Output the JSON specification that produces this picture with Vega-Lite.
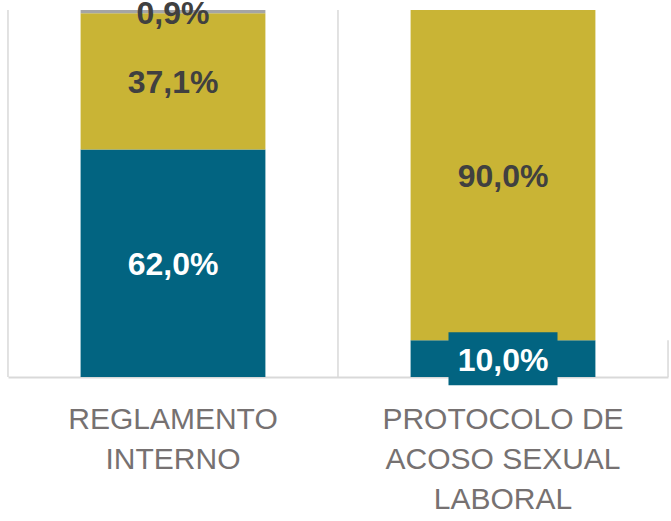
{
  "$schema": "https://vega.github.io/schema/vega-lite/v6.json",
  "autosize": "none",
  "width": 660,
  "height": 367,
  "padding": {"left": 8, "top": 10, "right": 3, "bottom": 144},
  "background": "white",
  "config": {"view": {"stroke": null}},
  "title": {
    "text": ["N", "s", "n", "C", "S", "N", "C"],
    "orient": "right",
    "angle": 0,
    "anchor": "start",
    "align": "left",
    "baseline": "top",
    "font": "Liberation Sans",
    "fontSize": 30,
    "fontWeight": "normal",
    "color": "#404040",
    "lineHeight": 46.5,
    "offset": 0,
    "dy": 32
  },
  "data": {
    "values": [
      {"categoria": "REGLAMENTO INTERNO", "serie": "Sí", "orden": 1, "valor": 62.0, "etiqueta": "62,0%"},
      {"categoria": "REGLAMENTO INTERNO", "serie": "No", "orden": 2, "valor": 37.1, "etiqueta": "37,1%"},
      {"categoria": "REGLAMENTO INTERNO", "serie": "No sabe", "orden": 3, "valor": 0.9, "etiqueta": "0,9%"},
      {"categoria": "PROTOCOLO DE ACOSO SEXUAL LABORAL", "serie": "Sí", "orden": 1, "valor": 10.0, "etiqueta": "10,0%"},
      {"categoria": "PROTOCOLO DE ACOSO SEXUAL LABORAL", "serie": "No", "orden": 2, "valor": 90.0, "etiqueta": "90,0%"}
    ]
  },
  "transform": [
    {"stack": "valor", "groupby": ["categoria"], "sort": [{"field": "orden"}], "as": ["v0", "v1"]},
    {"calculate": "(datum.v0 + datum.v1) / 2", "as": "vmid"}
  ],
  "encoding": {
    "x": {
      "field": "categoria",
      "type": "nominal",
      "sort": ["REGLAMENTO INTERNO", "PROTOCOLO DE ACOSO SEXUAL LABORAL"],
      "scale": {"paddingInner": 0.44, "paddingOuter": 0.22},
      "axis": {
        "title": null,
        "labelAngle": 0,
        "labelExpr": "datum.value == 'REGLAMENTO INTERNO' ? ['REGLAMENTO', 'INTERNO'] : ['PROTOCOLO DE', 'ACOSO SEXUAL', 'LABORAL']",
        "labelFont": "Liberation Sans",
        "labelFontSize": 30,
        "labelColor": "#767171",
        "labelLineHeight": 40,
        "labelPadding": 27,
        "labelLimit": 400,
        "ticks": false,
        "grid": false,
        "domainColor": "#D9D9D9",
        "domainWidth": 2
      }
    }
  },
  "layer": [
    {
      "mark": {"type": "bar"},
      "encoding": {
        "y": {"field": "v0", "type": "quantitative", "scale": {"domain": [0, 100]}, "axis": null},
        "y2": {"field": "v1"},
        "color": {
          "field": "serie",
          "type": "nominal",
          "scale": {"domain": ["Sí", "No", "No sabe"], "range": ["#026481", "#C9B435", "#A5A5A5"]},
          "legend": null
        }
      }
    },
    {
      "transform": [{"filter": "datum.etiqueta == '10,0%'"}],
      "mark": {"type": "point", "shape": "M-1,-0.486H1V0.486H-1Z", "filled": true, "opacity": 1, "size": 11881, "color": "#026481", "strokeWidth": 0},
      "encoding": {
        "y": {"field": "vmid", "type": "quantitative"}
      }
    },
    {
      "mark": {"type": "text", "font": "Liberation Sans", "fontWeight": "bold", "fontSize": 32, "baseline": "middle", "align": "center", "dy": 2},
      "encoding": {
        "y": {"field": "vmid", "type": "quantitative"},
        "text": {"field": "etiqueta"},
        "color": {
          "condition": {"test": "datum.serie == 'Sí'", "value": "#FFFFFF"},
          "value": "#404040"
        }
      }
    },
    {
      "transform": [{"filter": "datum.orden == 1"}],
      "mark": {"type": "rule", "color": "#D9D9D9", "strokeWidth": 1.5},
      "encoding": {
        "x": {"field": "categoria", "type": "nominal", "bandPosition": -0.393, "sort": ["REGLAMENTO INTERNO", "PROTOCOLO DE ACOSO SEXUAL LABORAL"]},
        "y": {"value": 0},
        "y2": {"value": 367}
      }
    },
    {
      "transform": [{"filter": "datum.orden == 1 && datum.categoria == 'PROTOCOLO DE ACOSO SEXUAL LABORAL'"}],
      "mark": {"type": "rule", "color": "#D9D9D9", "strokeWidth": 1.5},
      "encoding": {
        "x": {"field": "categoria", "type": "nominal", "bandPosition": 1.393, "sort": ["REGLAMENTO INTERNO", "PROTOCOLO DE ACOSO SEXUAL LABORAL"]},
        "y": {"field": "v0", "type": "quantitative"},
        "y2": {"field": "v1"}
      }
    }
  ]
}
